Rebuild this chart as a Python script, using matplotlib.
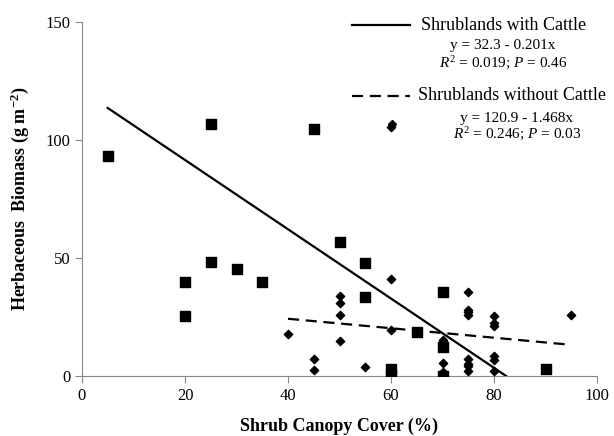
import matplotlib
matplotlib.use("Agg")
import matplotlib.pyplot as plt
import numpy as np

plt.rcParams["font.family"] = "Liberation Serif"
plt.rcParams["mathtext.fontset"] = "custom"
plt.rcParams["mathtext.rm"] = "Liberation Serif"
plt.rcParams["mathtext.it"] = "Liberation Serif:italic"
plt.rcParams["mathtext.bf"] = "Liberation Serif:bold"

# squares
sq_x = [5, 20, 20, 25, 25, 30, 35, 45, 50, 55, 55, 60, 60, 65, 70, 70, 70, 90]
sq_y = [93.3, 39.9, 25.6, 48.4, 106.9, 45.5, 39.9, 104.7, 56.7, 47.7, 33.6,
        2.9, 0.3, 18.7, 35.5, 12.5, 0.2, 2.9]

# diamonds
dm_x = [40, 45, 45, 50, 50, 50, 50, 55, 60, 60, 60, 70, 70, 70, 70, 70,
        75, 75, 75, 75, 75, 75, 75, 75, 80, 80, 80, 80, 80, 80, 95]
dm_y = [17.8, 7.0, 2.5, 33.7, 31.1, 25.7, 14.7, 3.8, 105.6, 40.9, 19.3,
        15.3, 14.3, 5.6, 1.7, 1.0, 35.8, 28.1, 27.1, 26.0, 7.1, 5.2, 4.1, 2.2,
        25.5, 22.5, 21.3, 8.3, 6.6, 2.2, 25.9]

# fitted lines
solid_a, solid_b = 120.9, -1.468
solid_range = [5, 82.4]
dash_a, dash_b = 32.3, -0.201
dash_range = [40, 94]

fig = plt.figure(figsize=(6.14, 4.36), dpi=100)
ax = fig.add_axes([82/614, 1 - 376/436, 515/614, 354/436])

ax.scatter(sq_x, sq_y, marker="s", s=50, color="black", zorder=3)
ax.scatter(dm_x, dm_y, marker="D", s=18, color="black", zorder=3)

xs = np.array(solid_range)
ax.plot(xs, solid_a + solid_b * xs, color="black", lw=1.6)
xd = np.array(dash_range)
ax.plot(xd, dash_a + dash_b * xd, color="black", lw=1.6, ls=(0, (5, 3)))

ax.set_xlim(0, 100)
ax.set_ylim(0, 150)
ax.set_xticks([0, 20, 40, 60, 80, 100])
ax.set_yticks([0, 50, 100, 150])
for s in ["top", "right"]:
    ax.spines[s].set_visible(False)
for s in ["left", "bottom"]:
    ax.spines[s].set_color("#888888")
ax.tick_params(colors="#888888", labelcolor="black", labelsize=12, length=5)

ax.set_xlabel("Shrub Canopy Cover (%)", fontsize=13, fontweight="bold", labelpad=10)
ax.set_ylabel("Herbaceous  Biomass (g m$^{\\mathbf{-2}}$)", fontsize=13,
              fontweight="bold", labelpad=10)

# legend drawn by hand in figure pixels
def fx(px):
    return px / 614

def fy(py):
    return 1 - py / 436

fig.add_artist(plt.Line2D([fx(352), fx(410)], [fy(25), fy(25)], color="black", lw=1.6))
fig.text(fx(421), fy(25), "Shrublands with Cattle", fontsize=13, va="center")
fig.text(fx(503), fy(45), "y = 32.3 - 0.201x", fontsize=11, va="center", ha="center")
fig.text(fx(503), fy(63), "$R^2$ = 0.019; $P$ = 0.46", fontsize=11, va="center", ha="center")

fig.add_artist(plt.Line2D([fx(352), fx(410)], [fy(96), fy(96)], color="black", lw=1.6,
                          ls=(0, (5, 3))))
fig.text(fx(418), fy(96), "Shrublands without Cattle", fontsize=13, va="center")
fig.add_artist(plt.Line2D([fx(392)], [fy(124)], marker="D", ms=4, color="black"))
fig.text(fx(517), fy(118), "y = 120.9 - 1.468x", fontsize=11, va="center", ha="center")
fig.text(fx(517), fy(134), "$R^2$ = 0.246; $P$ = 0.03", fontsize=11, va="center", ha="center")

fig.savefig("out.png", dpi=100)
